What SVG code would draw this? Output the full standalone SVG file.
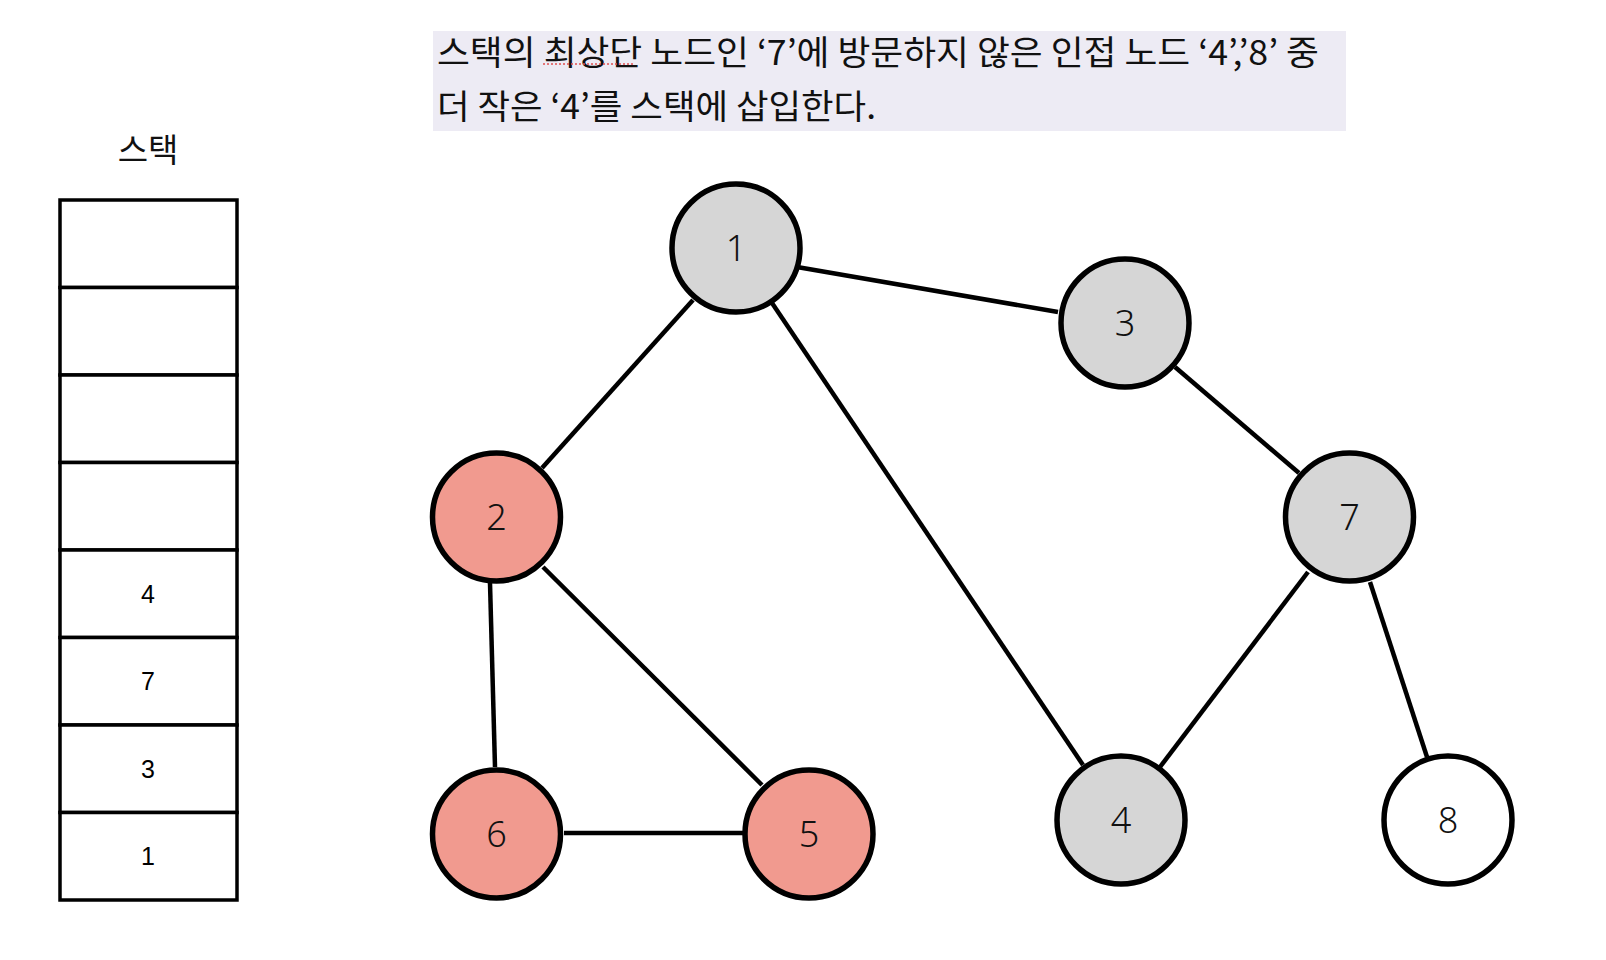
<svg xmlns="http://www.w3.org/2000/svg" width="1606" height="960" viewBox="0 0 1606 960">
<style>
.edge{stroke:#000;stroke-width:4.5;fill:none}
.node{stroke:#000;stroke-width:5.5}
.gray{fill:#D6D6D6}
.red{fill:#F19A8F}
.white{fill:#FFFFFF}
.lbl{font-family:"Noto Sans","Lato",sans-serif;font-weight:300;font-size:36px;fill:#111;text-anchor:middle}
.cell{fill:#fff;stroke:#000;stroke-width:3.5}
.snum{font-family:"Liberation Sans",Arial,sans-serif;font-size:25px;fill:#000;text-anchor:middle}
.kr{font-family:"Noto Sans CJK KR","Noto Sans",sans-serif;fill:#111}
</style>
<rect width="1606" height="960" fill="#fff"/>
<g id="caption">
<rect x="433" y="31" width="913" height="100" fill="#EDEBF4"/>
<text class="kr" x="437" y="65" font-size="34" textLength="882" lengthAdjust="spacingAndGlyphs">스택의 최상단 노드인 ‘7’에 방문하지 않은 인접 노드 ‘4’,’8’ 중</text>
<text class="kr" x="437" y="119" font-size="34" textLength="439" lengthAdjust="spacingAndGlyphs">더 작은 ‘4’를 스택에 삽입한다.</text>
<line x1="543" y1="64" x2="635" y2="64" stroke="#E05050" stroke-width="1.5" stroke-dasharray="2 2"/>
</g>
<g id="stack">
<text class="kr" x="148" y="162" font-size="33" text-anchor="middle">스택</text>
<rect class="cell" x="60" y="200" width="177" height="87.5"/>
<rect class="cell" x="60" y="287.5" width="177" height="87.5"/>
<rect class="cell" x="60" y="375" width="177" height="87.5"/>
<rect class="cell" x="60" y="462.5" width="177" height="87.5"/>
<rect class="cell" x="60" y="550" width="177" height="87.5"/>
<rect class="cell" x="60" y="637.5" width="177" height="87.5"/>
<rect class="cell" x="60" y="725" width="177" height="87.5"/>
<rect class="cell" x="60" y="812.5" width="177" height="87.5"/>
<text class="snum" x="148" y="603">4</text>
<text class="snum" x="148" y="690">7</text>
<text class="snum" x="148" y="778">3</text>
<text class="snum" x="148" y="865">1</text>
</g>
<g id="connectors">
<line class="edge" x1="797" y1="267" x2="1058" y2="312"/>
<line class="edge" x1="693" y1="300" x2="542" y2="468"/>
<line class="edge" x1="772" y1="303" x2="1083" y2="765"/>
<line class="edge" x1="1175" y1="367" x2="1299" y2="473"/>
<line class="edge" x1="490" y1="583" x2="495" y2="767"/>
<line class="edge" x1="543" y1="567" x2="762" y2="785"/>
<line class="edge" x1="564" y1="833" x2="743" y2="833"/>
<line class="edge" x1="1308" y1="572" x2="1160" y2="767"/>
<line class="edge" x1="1370" y1="582" x2="1427" y2="757"/>
</g>
<g id="node-1"><circle class="node gray" cx="736" cy="248" r="64"/><text class="lbl" x="736" y="261">1</text></g>
<g id="node-3"><circle class="node gray" cx="1125" cy="323" r="64"/><text class="lbl" x="1125" y="336">3</text></g>
<g id="node-2"><circle class="node red" cx="496.5" cy="517" r="64"/><text class="lbl" x="496.5" y="530">2</text></g>
<g id="node-7"><circle class="node gray" cx="1349.5" cy="517" r="64"/><text class="lbl" x="1349.5" y="530">7</text></g>
<g id="node-6"><circle class="node red" cx="496.5" cy="834" r="64"/><text class="lbl" x="496.5" y="847">6</text></g>
<g id="node-5"><circle class="node red" cx="809" cy="834" r="64"/><text class="lbl" x="809" y="847">5</text></g>
<g id="node-4"><circle class="node gray" cx="1121" cy="820" r="64"/><text class="lbl" x="1121" y="833">4</text></g>
<g id="node-8"><circle class="node white" cx="1448" cy="820" r="64"/><text class="lbl" x="1448" y="833">8</text></g>
</svg>
